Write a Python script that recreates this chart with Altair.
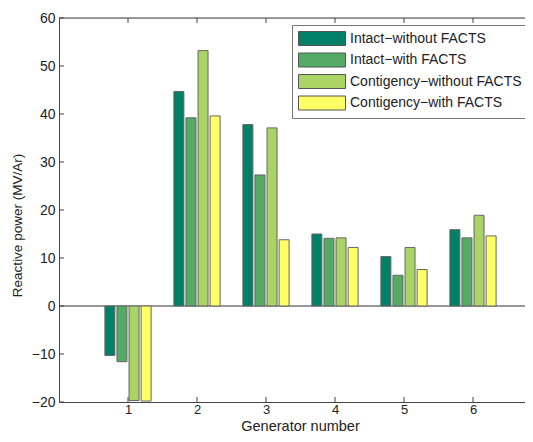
import altair as alt
import pandas as pd

generators = [1, 2, 3, 4, 5, 6]
series = ["Intact\u2212without FACTS", "Intact\u2212with FACTS",
          "Contigency\u2212without FACTS", "Contigency\u2212with FACTS"]
colors = ["#008066", "#55AA66", "#AAD466", "#FFFF66"]

intact_without = [-10.3, 44.7, 37.8, 15.0, 10.3, 15.9]
intact_with = [-11.6, 39.2, 27.3, 14.1, 6.4, 14.2]
cont_without = [-19.7, 53.2, 37.1, 14.2, 12.2, 18.9]
cont_with = [-19.8, 39.6, 13.8, 12.2, 7.6, 14.6]

y_ticks = [-20, -10, 0, 10, 20, 30, 40, 50, 60]
x_ticks = [1, 2, 3, 4, 5, 6]

W = 466
H = 384
XMAX = W / 69.0
SLOT = 0.175
HALF = 0.0725
FONT = "Liberation Sans"

rows = []
for i, (name, vals) in enumerate(zip(series, [intact_without, intact_with, cont_without, cont_with])):
    for g, v in zip(generators, vals):
        rows.append({"gen": g, "series": name, "idx": i, "value": v})
df = pd.DataFrame(rows)

xs = alt.Scale(domain=[0, XMAX], nice=False, zero=False)
ys = alt.Scale(domain=[-20, 60], nice=False, zero=False)

bars = alt.Chart(df).transform_calculate(
    x0=f"datum.gen + (datum.idx - 1.5) * {SLOT} - {HALF}",
    x1=f"datum.gen + (datum.idx - 1.5) * {SLOT} + {HALF}",
).mark_rect(stroke="#666666", strokeWidth=1).encode(
    x=alt.X("x0:Q", scale=xs,
            axis=alt.Axis(values=x_ticks, format="d", title="Generator number", grid=False,
                          tickSize=0, labelPadding=1.5, domainColor="#444444",
                          labelFont=FONT, labelFontSize=13,
                          labelColor="#222222",
                          titleFont=FONT, titleFontSize=14.5,
                          titleFontWeight="normal", titleColor="#222222",
                          titleBaseline="alphabetic", titleY=28.5, titleX=241)),
    x2="x1:Q",
    y=alt.Y("value:Q", scale=ys,
            axis=alt.Axis(values=y_ticks, title="Reactive power (MV/Ar)", grid=False,
                          tickSize=0, labelPadding=4, domainColor="#444444",
                          labelFont=FONT, labelFontSize=14,
                          labelColor="#222222",
                          titleFont=FONT, titleFontSize=13.5,
                          titleFontWeight="normal", titleColor="#222222",
                          titlePadding=7, titleY=207)),
    y2=alt.datum(0),
    color=alt.Color("series:N", scale=alt.Scale(domain=series, range=colors),
                    legend=alt.Legend(title=None, orient="none", legendX=233, legendY=7,
                                      symbolType="M-1,-1H5.714V1H-1Z", symbolSize=196,
                                      symbolStrokeColor="#555555", symbolStrokeWidth=1,
                                      symbolOpacity=1,
                                      labelFont=FONT, labelFontSize=14,
                                      labelColor="#222222", labelOffset=37,
                                      padding=6, rowPadding=2.5,
                                      strokeColor="#777777", fillColor="white",
                                      labelLimit=400)),
)

zero = alt.Chart(pd.DataFrame({"y": [0]})).mark_rule(color="#333333", strokeWidth=1).encode(
    y=alt.Y("y:Q", scale=ys), x=alt.datum(0, scale=xs), x2=alt.datum(XMAX))

top = alt.Chart(pd.DataFrame({"y": [60]})).mark_rule(color="#444444", strokeWidth=1).encode(
    y=alt.Y("y:Q", scale=ys), x=alt.datum(0), x2=alt.datum(XMAX))

ytick_df = pd.DataFrame({"y": y_ticks})
yt = alt.Chart(ytick_df).mark_rule(color="#444444").encode(
    y=alt.Y("y:Q", scale=ys), x=alt.datum(0), x2=alt.datum(0.0725))

xtick_df = pd.DataFrame({"x": x_ticks})
xb = alt.Chart(xtick_df).mark_rule(color="#444444").encode(
    x=alt.X("x:Q", scale=xs), y=alt.datum(-20), y2=alt.datum(-18.96))
xt = alt.Chart(xtick_df).mark_rule(color="#444444").encode(
    x=alt.X("x:Q", scale=xs), y=alt.datum(60), y2=alt.datum(58.96))

chart = alt.layer(zero, bars, top, yt, xb, xt).properties(
    width=W, height=H,
    padding={"left": 51, "top": 10, "right": 0, "bottom": 32},
    autosize=alt.AutoSizeParams(type="none"),
).configure_view(stroke=None).configure(background="white")

chart.save("out.html", embed_options={"renderer": "svg", "actions": False})
